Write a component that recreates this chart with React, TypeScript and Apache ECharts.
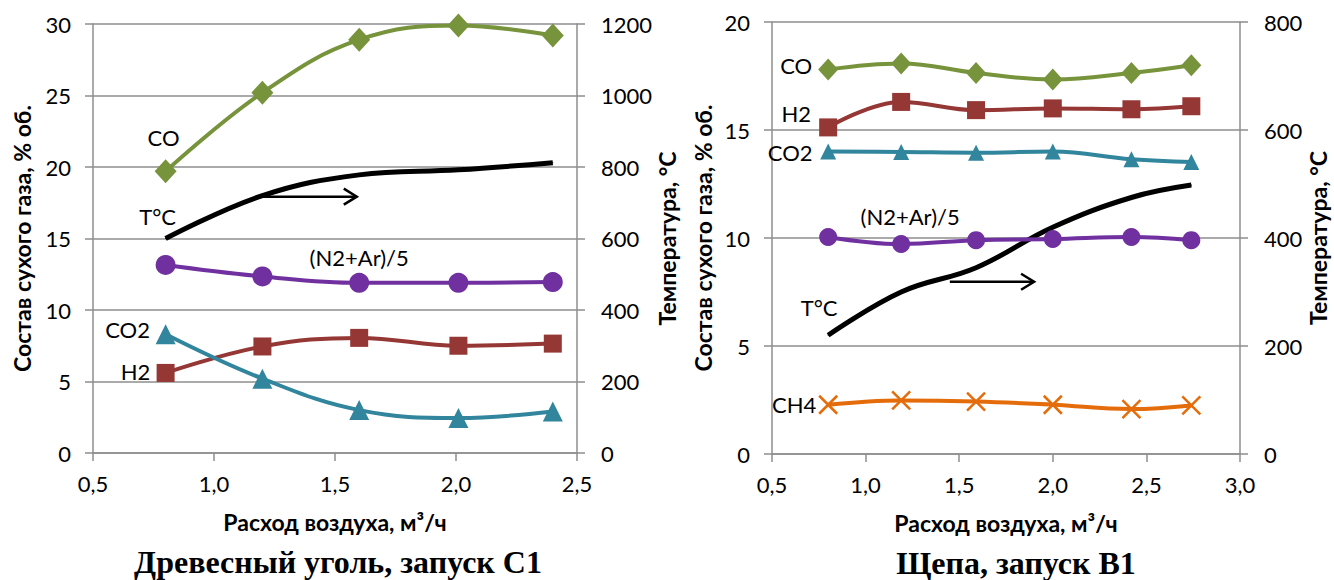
import React, { useEffect, useRef } from "react";
import * as echarts from "echarts";

// ---- Chart 1: Древесный уголь, запуск С1 ----
const flow1 = [0.8, 1.2, 1.6, 2.01, 2.4];
const co1 = [19.7, 25.2, 28.9, 29.9, 29.2];
const h2_1 = [5.6, 7.45, 8.05, 7.5, 7.65];
const co2_1 = [8.3, 5.2, 3.0, 2.45, 2.9];
const n2_1 = [13.15, 12.35, 11.9, 11.9, 11.95];
const temp1 = [600, 720, 778, 792, 812];

// ---- Chart 2: Щепа, запуск В1 ----
const flow2 = [0.8, 1.19, 1.59, 2.0, 2.42, 2.74];
const co2chip = [17.8, 18.08, 17.64, 17.34, 17.64, 18.0];
const h2_2 = [15.12, 16.3, 15.92, 16.0, 15.96, 16.1];
const co2_2 = [14.0, 13.98, 13.95, 14.0, 13.65, 13.52];
const n2_2 = [10.05, 9.72, 9.9, 9.95, 10.05, 9.9];
const ch4_2 = [2.28, 2.48, 2.43, 2.28, 2.08, 2.25];
const temp2 = [220, 300, 345, 420, 475, 498];

const xTitle = "Расход воздуха, м³/ч";
const yTitle = "Состав сухого газа, % об.";
const y2Title = "Температура, °С";
const caption1 = "Древесный уголь, запуск С1";
const caption2 = "Щепа, запуск В1";

const C_CO = "#77933C";
const C_H2 = "#953735";
const C_CO2 = "#31859C";
const C_N2 = "#7030A0";
const C_CH4 = "#E46C0A";
const C_T = "#000000";
const GRID = "#8e8e8e";
const FONT = "Lato, 'Noto Sans', sans-serif";
const TICK_SIZE = 22;
const TITLE_SIZE = 23;
const LABEL_SIZE = 22;

const X_MARK = "path://M0,0 L10,10 M10,0 L0,10";

function pts(xs: number[], ys: number[], labelIdx: number, text: string, offset: number[]) {
  return xs.map((x, i) => {
    if (i !== labelIdx) return [x, ys[i]];
    return {
      value: [x, ys[i]],
      label: {
        show: true,
        formatter: text,
        position: "inside",
        offset,
        fontFamily: FONT,
        fontSize: LABEL_SIZE,
        color: "#000",
      },
    };
  });
}

function line(
  name: string,
  xi: number,
  yi: number,
  data: any[],
  color: string,
  symbol: string,
  size: any,
  width = 4
) {
  return {
    name,
    type: "line",
    xAxisIndex: xi,
    yAxisIndex: yi,
    data,
    smooth: 0.4,
    symbol,
    symbolSize: size,
    showSymbol: true,
    lineStyle: { color, width },
    itemStyle: { color, borderColor: color, borderWidth: symbol === X_MARK ? 2.5 : 0 },
    label: { show: false },
    emphasis: { disabled: true },
    z: color === C_T ? 3 : 4,
  };
}

function xAxis(gridIndex: number, max: number) {
  return {
    type: "value",
    gridIndex,
    min: 0.5,
    max,
    interval: 0.5,
    axisLine: { show: true, onZero: false, lineStyle: { color: GRID, width: 1.5 } },
    axisTick: { show: true, length: 8, lineStyle: { color: GRID, width: 1.5 } },
    splitLine: { show: false },
    axisLabel: {
      fontFamily: FONT,
      fontSize: TICK_SIZE,
      color: "#000",
      margin: 19,
      formatter: (v: number) => v.toFixed(1).replace(".", ","),
    },
    name: xTitle,
    nameLocation: "middle",
    nameGap: 57,
    nameTextStyle: { fontFamily: FONT, fontWeight: "bold", fontSize: TITLE_SIZE, color: "#000" },
  };
}

function yAxis(gridIndex: number, max: number, interval: number, right: boolean, name: string, gap: number) {
  return {
    type: "value",
    gridIndex,
    position: right ? "right" : "left",
    min: 0,
    max,
    interval,
    axisLine: { show: true, onZero: false, lineStyle: { color: GRID, width: 1.5 } },
    axisTick: { show: true, length: 8, lineStyle: { color: GRID, width: 1.5 } },
    splitLine: { show: !right, lineStyle: { color: GRID, width: 1.5 } },
    axisLabel: {
      fontFamily: FONT,
      fontSize: TICK_SIZE,
      color: "#000",
      margin: right ? 24 : 22,
      formatter: (v: number) => String(v),
    },
    name,
    nameLocation: "middle",
    nameRotate: 90,
    nameGap: gap,
    nameTextStyle: { fontFamily: FONT, fontWeight: "bold", fontSize: TITLE_SIZE, color: "#000" },
  };
}

export default function App() {
  const ref = useRef<HTMLDivElement>(null);
  useEffect(() => {
    document.body.style.margin = "0";
    const chart = echarts.init(ref.current!, null, { renderer: "svg" });
    const serif = "'Liberation Serif', 'DejaVu Serif', serif";
    const option: any = {
      animation: false,
      backgroundColor: "#ffffff",
      grid: [
        { left: 93, top: 24, width: 484, height: 429 },
        { left: 772, top: 22, width: 468, height: 432 },
      ],
      xAxis: [xAxis(0, 2.5), xAxis(1, 3.0)],
      yAxis: [
        yAxis(0, 30, 5, false, yTitle, 60),
        yAxis(0, 1200, 200, true, y2Title, 56),
        yAxis(1, 20, 5, false, yTitle, 58),
        yAxis(1, 800, 200, true, y2Title, 64),
      ],
      series: [
        line("T°C", 0, 1, pts(flow1, temp1, 0, "T°C", [-8, -22]), C_T, "circle", 1, 5),
        line("CO", 0, 0, pts(flow1, co1, 0, "CO", [-2, -34]), C_CO, "diamond", [22, 24]),
        line("(N2+Ar)/5", 0, 0, pts(flow1, n2_1, 2, "(N2+Ar)/5", [0, -25]), C_N2, "circle", 20),
        line("H2", 0, 0, pts(flow1, h2_1, 0, "H2", [-30, -1]), C_H2, "rect", 18),
        line("CO2", 0, 0, pts(flow1, co2_1, 0, "CO2", [-38, -5]), C_CO2, "triangle", 20),

        line("T°C ", 1, 3, pts(flow2, temp2, 0, "T°C", [-9, -28]), C_T, "circle", 1, 5),
        line("CO ", 1, 2, pts(flow2, co2chip, 0, "CO", [-32, -4]), C_CO, "diamond", [20, 22]),
        line("H2 ", 1, 2, pts(flow2, h2_2, 0, "H2", [-32, -14]), C_H2, "rect", 18),
        line("CO2 ", 1, 2, pts(flow2, co2_2, 0, "CO2", [-38, 1]), C_CO2, "triangle", 16),
        line("(N2+Ar)/5 ", 1, 2, pts(flow2, n2_2, 1, "(N2+Ar)/5", [9, -28]), C_N2, "circle", 18),
        line("CH4", 1, 2, pts(flow2, ch4_2, 0, "CH4", [-34, 0]), C_CH4, X_MARK, 18),
      ],
      graphic: [
        {
          type: "text",
          x: 338,
          y: 562,
          style: {
            text: caption1,
            fontFamily: serif,
            fontWeight: "bold",
            fontSize: 32,
            fill: "#000",
            align: "center",
            verticalAlign: "middle",
          },
        },
        {
          type: "text",
          x: 1016,
          y: 563,
          style: {
            text: caption2,
            fontFamily: serif,
            fontWeight: "bold",
            fontSize: 32,
            fill: "#000",
            align: "center",
            verticalAlign: "middle",
          },
        },
      ],
    };
    chart.setOption(option);

    const arrow = (xi: number, yi: number, x0: number, x1: number, t: number) => {
      const p0 = chart.convertToPixel({ xAxisIndex: xi, yAxisIndex: yi }, [x0, t]) as number[];
      const p1 = chart.convertToPixel({ xAxisIndex: xi, yAxisIndex: yi }, [x1, t]) as number[];
      return [
        {
          type: "line",
          shape: { x1: p0[0], y1: p0[1], x2: p1[0], y2: p1[1] },
          style: { stroke: "#000", lineWidth: 2.5 },
          z: 10,
        },
        {
          type: "polyline",
          shape: {
            points: [
              [p1[0] - 13, p1[1] - 8],
              [p1[0], p1[1]],
              [p1[0] - 13, p1[1] + 8],
            ],
          },
          style: { stroke: "#000", lineWidth: 2.5, fill: "none" },
          z: 10,
        },
      ];
    };
    chart.setOption({
      graphic: [
        ...option.graphic,
        ...arrow(0, 1, 1.2, 1.59, 717),
        ...arrow(1, 3, 1.45, 1.9, 319),
      ],
    });
    return () => chart.dispose();
  }, []);
  return <div ref={ref} style={{ width: 1334, height: 580 }} />;
}
